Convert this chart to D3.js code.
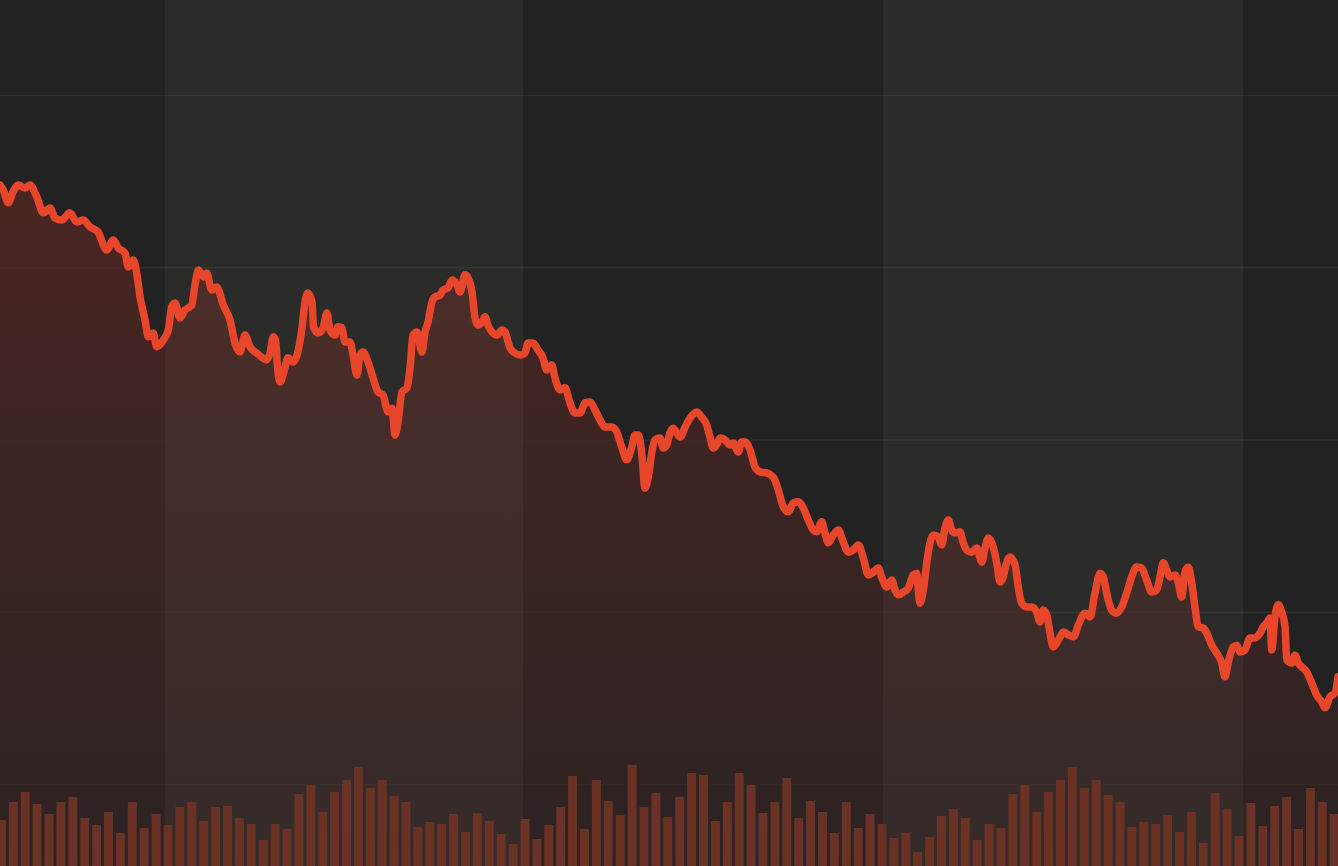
<!DOCTYPE html>
<html>
<head>
<meta charset="utf-8" />
<title>Price and volume</title>
<script src="https://d3js.org/d3.v7.min.js"></script>
<style>
  body { margin: 0; background: #222222; overflow: hidden; }
  svg { display: block; }
</style>
</head>
<body>

<svg id="viz"></svg>

<script>

// price line (day index, price)
var lineDays = [-0.12, 0.16, 0.58, 0.97, 1.42, 1.98, 2.40, 2.97, 3.52, 4.08,
  4.50, 5.07, 5.76, 6.33, 6.88, 7.45, 8.14, 8.56, 8.85, 9.40,
  9.82, 10.39, 10.66, 11.08, 11.37, 11.65, 12.07, 12.34, 12.76, 13.05,
  13.61, 14.03, 14.31, 14.59, 15.01, 15.43, 15.99, 16.27, 16.55, 16.97,
  17.25, 17.67, 18.09, 18.65, 19.21, 19.63, 20.05, 20.47, 20.89, 21.45,
  21.87, 22.29, 22.57, 22.85, 23.03, 23.24, 23.41, 23.83, 24.08, 24.50,
  24.84, 25.26, 25.51, 25.76, 26.10, 26.23, 26.61, 27.03, 27.36, 27.61,
  28.03, 28.29, 28.62, 28.87, 29.29, 29.55, 29.88, 30.13, 30.39, 30.81,
  31.23, 31.65, 32.07, 32.49, 32.82, 33.08, 33.33, 33.66, 34.08, 34.34,
  34.59, 34.92, 35.34, 35.60, 35.85, 36.18, 36.44, 36.86, 37.11, 37.53,
  37.87, 38.29, 38.54, 38.96, 39.21, 39.55, 39.80, 40.05, 40.39, 40.64,
  40.89, 41.31, 41.65, 42.07, 42.32, 42.74, 43.16, 43.58, 44.00, 44.25,
  44.67, 45.09, 45.51, 45.82, 46.24, 46.52, 46.94, 47.36, 47.78, 48.20,
  48.62, 49.04, 49.46, 49.88, 50.30, 50.72, 51.29, 51.71, 52.13, 52.55,
  52.97, 53.24, 53.52, 53.81, 54.08, 54.36, 54.65, 54.92, 55.34, 55.62,
  55.91, 56.18, 56.46, 56.75, 57.03, 57.45, 57.87, 58.43, 58.85, 59.27,
  59.55, 59.82, 60.11, 60.39, 60.81, 61.23, 61.50, 61.92, 62.21, 62.49,
  62.91, 63.33, 63.75, 64.31, 64.87, 65.29, 65.71, 66.13, 66.55, 66.97,
  67.39, 67.81, 68.23, 68.51, 68.93, 69.21, 69.49, 69.91, 70.33, 70.75,
  71.17, 71.59, 72.01, 72.43, 72.85, 73.27, 73.69, 73.97, 74.39, 74.82,
  75.09, 75.37, 75.79, 76.21, 76.63, 76.92, 77.05, 77.19, 77.47, 77.76,
  78.03, 78.31, 78.73, 79.02, 79.29, 79.57, 79.86, 80.13, 80.55, 80.83,
  81.12, 81.54, 81.96, 82.38, 82.66, 82.93, 83.35, 83.64, 83.92, 84.19,
  84.48, 84.76, 85.18, 85.45, 85.74, 86.16, 86.58, 87.00, 87.28, 87.55,
  87.84, 88.12, 88.39, 88.82, 89.24, 89.66, 90.08, 90.50, 91.06, 91.48,
  91.90, 92.32, 92.60, 92.88, 93.30, 93.72, 94.14, 94.56, 94.98, 95.40,
  95.82, 96.24, 96.66, 97.08, 97.36, 97.64, 97.92, 98.20, 98.62, 98.90,
  99.18, 99.46, 99.74, 100.03, 100.30, 100.58, 101.00, 101.29, 101.71, 102.13,
  102.55, 102.82, 103.10, 103.52, 103.81, 104.08, 104.50, 104.92, 105.34, 105.76,
  106.04, 106.33, 106.61, 106.75, 107.02, 107.30, 107.59, 107.87, 108.01, 108.43,
  108.71, 108.98, 109.27, 109.69, 110.11, 110.53, 110.95, 111.23, 111.65, 112.07,
  112.32];

var linePrice = [47.39, 47.24, 46.87, 47.18, 47.39, 47.30, 47.39, 47.04, 46.58, 46.72,
  46.43, 46.37, 46.58, 46.31, 46.37, 46.17, 46.02, 45.65, 45.50, 45.79,
  45.56, 45.41, 45.01, 45.21, 44.83, 44.14, 43.47, 42.98, 43.09, 42.69,
  42.89, 43.18, 43.85, 43.96, 43.53, 43.76, 43.90, 44.49, 44.92, 44.72,
  44.83, 44.34, 44.43, 43.90, 43.47, 42.80, 42.54, 43.03, 42.69, 42.51,
  42.39, 42.31, 42.51, 42.98, 42.89, 41.96, 41.67, 42.08, 42.37, 42.25,
  42.45, 43.24, 43.99, 44.25, 43.99, 43.27, 43.09, 43.24, 43.67, 43.18,
  43.03, 43.27, 43.24, 42.83, 42.83, 42.45, 41.87, 42.45, 42.54, 42.25,
  41.79, 41.38, 41.29, 40.80, 40.91, 40.13, 40.51, 41.38, 41.50, 42.08,
  43.03, 43.12, 42.54, 43.12, 43.41, 43.99, 44.14, 44.19, 44.34, 44.40,
  44.63, 44.49, 44.28, 44.78, 44.69, 44.28, 43.53, 43.32, 43.41, 43.56,
  43.32, 43.09, 43.03, 43.18, 43.12, 42.66, 42.51, 42.45, 42.51, 42.80,
  42.80, 42.60, 42.37, 42.02, 42.16, 41.79, 41.44, 41.50, 41.06, 40.77,
  40.77, 41.06, 41.09, 40.86, 40.57, 40.36, 40.36, 40.22, 39.78, 39.41,
  39.78, 40.13, 40.13, 39.61, 38.59, 38.91, 39.61, 39.99, 40.04, 39.75,
  39.84, 40.19, 40.33, 40.19, 40.07, 40.36, 40.62, 40.80, 40.65, 40.42,
  40.07, 39.75, 39.84, 40.04, 39.99, 39.84, 39.90, 39.64, 39.93, 39.93,
  39.70, 39.20, 39.06, 39.03, 38.91, 38.53, 38.04, 37.90, 38.16, 38.19,
  38.01, 37.66, 37.37, 37.32, 37.61, 37.29, 37.00, 37.23, 37.37, 37.02,
  36.73, 36.79, 36.94, 36.56, 36.07, 36.15, 36.27, 36.01, 35.72, 35.92,
  35.63, 35.49, 35.57, 35.69, 36.07, 36.12, 35.63, 35.25, 35.63, 36.42,
  37.00, 37.23, 37.17, 36.94, 37.43, 37.66, 37.37, 37.29, 37.32, 37.00,
  36.79, 36.73, 36.85, 36.44, 36.85, 37.14, 36.88, 36.42, 35.86, 36.01,
  36.44, 36.59, 36.36, 35.72, 35.25, 35.14, 35.14, 34.99, 34.70, 35.05,
  34.91, 34.38, 33.98, 34.18, 34.41, 34.33, 34.27, 34.62, 34.96, 34.85,
  35.54, 36.12, 36.01, 35.54, 35.05, 34.96, 35.14, 35.54, 36.01, 36.30,
  36.27, 35.92, 35.57, 35.63, 36.01, 36.42, 36.21, 36.01, 36.07, 35.83,
  35.43, 36.15, 36.30, 35.83, 35.14, 34.56, 34.53, 34.38, 34.03, 33.80,
  33.51, 33.11, 33.54, 33.98, 34.03, 33.83, 33.89, 34.24, 34.24, 34.38,
  34.56, 34.67, 34.82, 33.89, 34.85, 35.20, 34.99, 34.56, 33.60, 33.51,
  33.74, 33.51, 33.40, 33.25, 32.93, 32.58, 32.38, 32.21, 32.53, 32.64,
  33.11];

// one volume bar per day, 0..112
var volume = [46, 64, 74, 62, 52, 64, 69, 48, 41, 54,
  33, 64, 38, 52, 41, 59, 64, 45, 59, 60,
  48, 42, 26, 42, 37, 72, 81, 54, 74, 86,
  99, 78, 86, 70, 64, 39, 44, 42, 52, 34,
  53, 45, 32, 22, 47, 27, 41, 59, 90, 37,
  86, 65, 51, 101, 59, 73, 49, 69, 93, 91,
  45, 64, 93, 81, 53, 64, 88, 48, 65, 54,
  33, 64, 38, 52, 42, 28, 33, 14, 29, 50,
  57, 48, 26, 42, 38, 72, 81, 54, 74, 86,
  99, 78, 86, 71, 64, 39, 44, 42, 51, 34,
  54, 23, 73, 57, 30, 63, 40, 60, 69, 37,
  78, 64, 52];

// month boundaries (day index) and price gridlines
var monthEdges = [13.75, 43.85, 74.1, 104.35];
var priceTicks = [30, 35, 40, 45, 50];

var width = 1338,
    height = 866,
    barWidth = 9;

var xScale = d3.scaleLinear()
  .domain([0, 112])
  .range([1.4, 1334.2]);

var yScale = d3.scaleLinear()
  .domain([30, 50])
  .range([784, 95]);

var volScale = d3.scaleLinear()
  .domain([0, 100])
  .range([height, height - 100]);

var svg = d3.select("#viz")
  .attr("width", width)
  .attr("height", height);

var defs = svg.append("defs");

var points = lineDays.map(function(t, i) {
  return { t: t, p: linePrice[i] };
});

//background + month bands
svg.append("rect")
  .attr("width", width)
  .attr("height", height)
  .attr("fill", "#222222");

var bands = [];
for (var i = 0; i + 1 < monthEdges.length; i += 2) {
  bands.push([monthEdges[i], monthEdges[i + 1]]);
}

svg.selectAll("rect.band")
  .data(bands)
  .enter().append("rect")
  .attr("class", "band")
  .attr("x", function(d) { return xScale(d[0]); })
  .attr("y", 0)
  .attr("width", function(d) { return xScale(d[1]) - xScale(d[0]); })
  .attr("height", height)
  .attr("fill", "#2b2b2a");

//gridlines: clear above the price, faint below it
var above = d3.area()
  .curve(d3.curveMonotoneX)
  .x(function(d) { return xScale(d.t); })
  .y0(0)
  .y1(function(d) { return yScale(d.p); });

defs.append("clipPath")
  .attr("id", "aboveLine")
  .append("path")
  .datum(points)
  .attr("d", above);

var yAxis = d3.axisLeft(yScale)
  .tickValues(priceTicks)
  .tickSize(-width)
  .tickFormat("");

function drawGrid(opacity, clip) {
  var g = svg.append("g")
    .attr("class", "grid")
    .call(yAxis);
  g.select(".domain").remove();
  g.selectAll("line")
    .attr("stroke", "#ffffff")
    .attr("stroke-opacity", opacity)
    .attr("stroke-width", 1.5);
  if (clip) g.attr("clip-path", clip);
}

drawGrid(0.02, null);
drawGrid(0.04, "url(#aboveLine)");

//area gradient
var grad = defs.append("linearGradient")
  .attr("id", "areaFill")
  .attr("gradientUnits", "userSpaceOnUse")
  .attr("x1", 0).attr("x2", 0)
  .attr("y1", yScale(d3.max(linePrice)))
  .attr("y2", height);

grad.append("stop").attr("offset", "0%")
  .attr("stop-color", "#dc3322").attr("stop-opacity", 0.21);
grad.append("stop").attr("offset", "100%")
  .attr("stop-color", "#dc3322").attr("stop-opacity", 0.05);

var area = d3.area()
  .curve(d3.curveMonotoneX)
  .x(function(d) { return xScale(d.t); })
  .y0(height)
  .y1(function(d) { return yScale(d.p); });

svg.append("path")
  .datum(points)
  .attr("d", area)
  .attr("fill", "url(#areaFill)");

//volume bars
svg.selectAll("rect.vol")
  .data(volume)
  .enter().append("rect")
  .attr("class", "vol")
  .attr("x", function(d, i) { return xScale(i) - barWidth / 2; })
  .attr("y", function(d) { return volScale(d); })
  .attr("width", barWidth)
  .attr("height", function(d) { return height - volScale(d); })
  .attr("fill", "#6a3125");

//price line
var line = d3.line()
  .curve(d3.curveMonotoneX)
  .x(function(d) { return xScale(d.t); })
  .y(function(d) { return yScale(d.p); });

svg.append("path")
  .datum(points)
  .attr("d", line)
  .attr("fill", "none")
  .attr("stroke", "#e8462b")
  .attr("stroke-width", 7.5)
  .attr("stroke-linejoin", "round")
  .attr("stroke-linecap", "round");

</script>
</body>
</html>
